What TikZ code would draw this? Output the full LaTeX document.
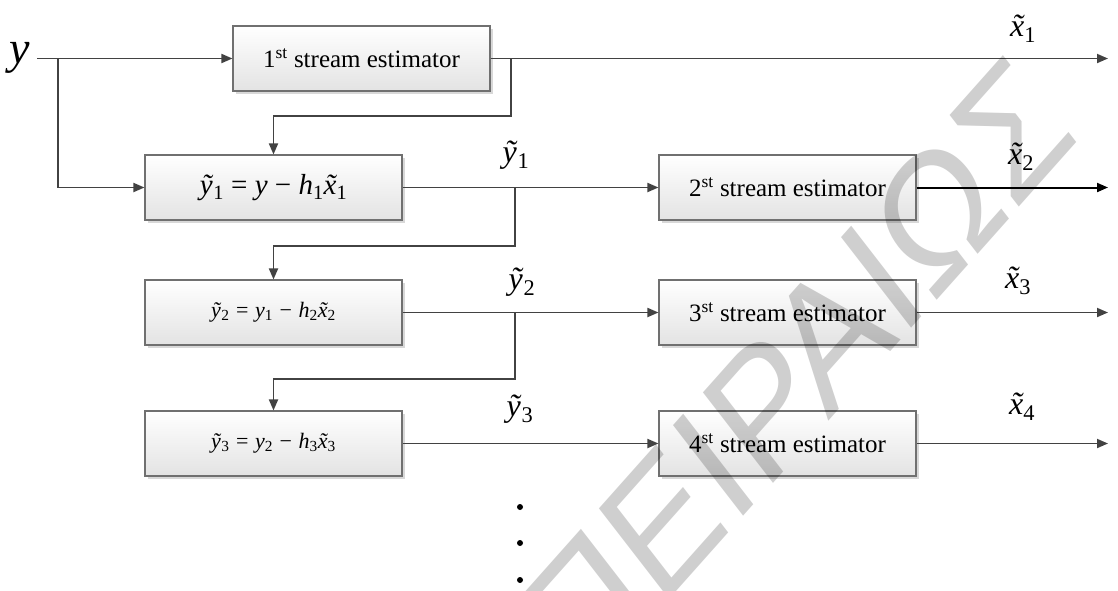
\documentclass[tikz,border=0pt]{standalone}
\usepackage{fontspec}
\setmainfont{Liberation Serif}
\newfontfamily\wmsans{Liberation Sans}
\usetikzlibrary{arrows.meta,shadows}
\definecolor{linegray}{HTML}{424242}
\definecolor{boxgray}{HTML}{707070}
\newcommand{\vy}{\textit{\~y}}
\newcommand{\vx}{\ooalign{\textit{x}\cr\hidewidth\kern0.08em\textit{\char"02DC}\hidewidth\cr}}
\newcommand{\sub}[1]{\textsubscript{#1}}
\begin{document}
\begin{tikzpicture}[x=1pt,y=-1pt,
  line/.style={draw=linegray, line width=1.8pt},
  arr/.style={line, -{Triangle[length=11pt,width=9pt]}},
  blk/.style={draw=boxgray, line width=1.1pt, top color=white, bottom color=black!11,
    minimum width=257pt, minimum height=65pt, inner sep=0pt,
    drop shadow={shadow xshift=2.5pt, shadow yshift=-2.5pt, fill=black!30, opacity=0.5}},
  etext/.style={font=\fontsize{25}{30}\selectfont},
  ftext/.style={font=\fontsize{29}{34}\selectfont},
  gtext/.style={font=\fontsize{22}{26}\selectfont},
  lab/.style={font=\fontsize{32}{38}\selectfont, inner sep=0pt},
  dot/.style={circle, fill=black, inner sep=0pt, minimum size=6pt}
]
\useasboundingbox (0,0) rectangle (1118,590);

% blocks
\node[blk, etext] (b1) at (361.5,58.5) {1\textsuperscript{st} stream estimator};
\node[blk, ftext] (s1) at (273.5,187.5) {\vy\sub{1} = \textit{y} − \textit{h}\sub{1}\vx\sub{1}};
\node[blk, gtext] (s2) at (273.5,312.5) {\vy\sub{2}\hspace{0.3em}=\hspace{0.3em}\textit{y}\sub{1}\hspace{0.3em}−\hspace{0.3em}\textit{h}\sub{2}\vx\sub{2}};
\node[blk, gtext] (s3) at (273.5,443.5) {\vy\sub{3}\hspace{0.3em}=\hspace{0.3em}\textit{y}\sub{2}\hspace{0.3em}−\hspace{0.3em}\textit{h}\sub{3}\vx\sub{3}};
\node[blk, etext] (e2) at (787.5,187.5) {2\textsuperscript{st} stream estimator};
\node[blk, etext] (e3) at (787.5,312.5) {3\textsuperscript{st} stream estimator};
\node[blk, etext] (e4) at (787.5,443.5) {4\textsuperscript{st} stream estimator};

% input label
\node[anchor=base west, inner sep=0pt, font=\fontsize{46}{50}\selectfont] (ylab) at (9,63) {\textit{y}};

% coordinates
\coordinate (in) at (37,58.5);
\coordinate (j0) at (58,58.5);
\coordinate (j1) at (511,58.5);
\coordinate (f1) at (511,116);
\coordinate (k1) at (515,187.5);
\coordinate (f2) at (515,246);
\coordinate (k2) at (515,312.5);
\coordinate (f3) at (515,379);
\coordinate (o1) at (1108,58.5);
\coordinate (o2) at (1108,187.5);
\coordinate (o3) at (1108,312.5);
\coordinate (o4) at (1108,443.5);

% connectors
\draw[arr] (in) -- (b1.west);
\draw[arr] (j0) |- (s1.west);
\draw[arr] (b1.east) -- (o1);
\draw[arr] (j1) -- (f1) -| (s1.north);
\draw[arr] (s1.east) -- (e2.west);
\draw[arr] (k1) -- (f2) -| (s2.north);
\draw[arr, draw=black, line width=2pt] (e2.east) -- (o2);
\draw[arr] (s2.east) -- (e3.west);
\draw[arr] (k2) -- (f3) -| (s3.north);
\draw[arr] (e3.east) -- (o3);
\draw[arr] (s3.east) -- (e4.west);
\draw[arr] (e4.east) -- (o4);

% labels
\node[lab] (ly1) at (516,155) {\vy\sub{1}};
\node[lab] (ly2) at (522,282) {\vy\sub{2}};
\node[lab] (ly3) at (520,409) {\vy\sub{3}};
\node[lab] (lx1) at (1023,32) {\vx\sub{1}};
\node[lab] (lx2) at (1021,160) {\vx\sub{2}};
\node[lab] (lx3) at (1018,284) {\vx\sub{3}};
\node[lab] (lx4) at (1022,410) {\vx\sub{4}};

% dots
\node[dot] (d1) at (520,507) {};
\node[dot] (d2) at (520,543) {};
\node[dot] (d3) at (520,580) {};

% watermark
\begin{scope}
\clip (0,0) rectangle (1118,590);
\node[font=\wmsans\fontsize{180}{190}\selectfont, text=black, opacity=0.19, xscale=0.83, rotate=43, inner sep=0pt] (wm) at (796,372) {ΠΕΙΡΑΙΩΣ};
\end{scope}
\end{tikzpicture}
\end{document}
